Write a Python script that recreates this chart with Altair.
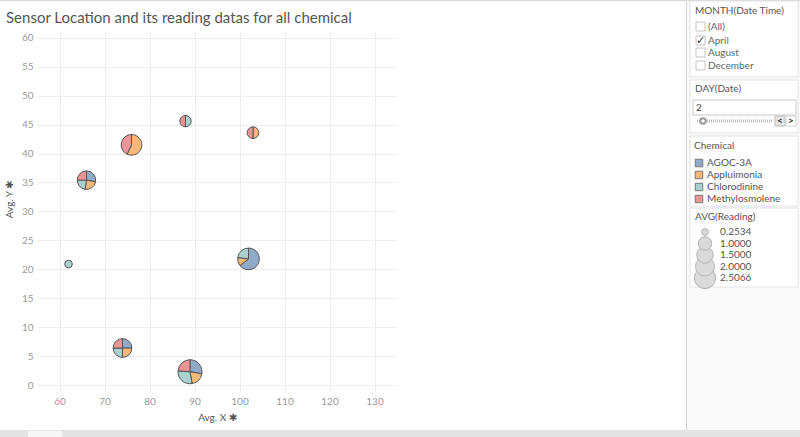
import math
import altair as alt
import pandas as pd

# ---------------- data ----------------
chemicals = ["AGOC-3A", "Appluimonia", "Chlorodinine", "Methylosmolene"]
chem_colors = ["#90abc8", "#f7b87a", "#a9d2cf", "#ec9597"]

sensor_x = [62, 66, 76, 88, 103, 102, 74, 89]
sensor_y = [20.9, 35.4, 41.5, 45.6, 43.6, 21.8, 6.4, 2.3]

reading_agoc = [None, 1.64, None, None, None, 3.94, 1.55, 2.78]
reading_appl = [None, 1.48, 2.12, None, 0.59, 0.77, 1.52, 1.95]
reading_chlor = [0.2534, 1.32, None, 0.56, None, 1.41, 1.51, 2.92]
reading_meth = [None, 1.48, 1.60, 0.56, 0.59, None, 1.54, 2.38]

size_legend_values = [0.2534, 1.0, 1.5, 2.0, 2.5066]
x_ticks = [60, 70, 80, 90, 100, 110, 120, 130]
y_ticks = [0, 5, 10, 15, 20, 25, 30, 35, 40, 45, 50, 55, 60]

month_options = ["(All)", "April", "August", "December"]
month_selected = "April"
day_value = "2"

title_text = "Sensor Location and its reading datas for all chemical"

readings = [reading_agoc, reading_appl, reading_chlor, reading_meth]
rows = []
for i, (sx, sy) in enumerate(zip(sensor_x, sensor_y)):
    for chem, series in zip(chemicals, readings):
        v = series[i]
        if v is not None:
            rows.append({"sensor": i, "x": sx, "y": sy, "chemical": chem, "reading": v})
df = pd.DataFrame(rows)

# ---------------- layout ----------------
FONT = "Lato"
PL, PT = 37, 32          # plot origin in page pixels
W, H = 360, 360          # plot area size
one = pd.DataFrame({"k": [0]})


def txt(label, ax, ay, size=10, color="#555555", align="left", baseline="middle", **kw):
    return alt.Chart(one).mark_text(
        text=label, align=align, baseline=baseline, fontSize=size, color=color, font=FONT, **kw
    ).encode(x=alt.value(ax - PL), y=alt.value(ay - PT))


def box(x1, y1, x2, y2, fill, stroke=None, sw=1):
    kw = {"fill": fill}
    if stroke:
        kw["stroke"] = stroke
        kw["strokeWidth"] = sw
    return alt.Chart(one).mark_rect(**kw).encode(
        x=alt.value(x1 - PL), x2=alt.value(x2 - PL), y=alt.value(y1 - PT), y2=alt.value(y2 - PT)
    )


def hline(x1, x2, y, color, dash=None, sw=1):
    kw = {"color": color, "strokeWidth": sw}
    if dash:
        kw["strokeDash"] = dash
    return alt.Chart(one).mark_rule(**kw).encode(
        x=alt.value(x1 - PL), x2=alt.value(x2 - PL), y=alt.value(y - PT)
    )


def vline(x, y1, y2, color, sw=1):
    return alt.Chart(one).mark_rule(color=color, strokeWidth=sw).encode(
        x=alt.value(x - PL), y=alt.value(y1 - PT), y2=alt.value(y2 - PT)
    )


x_scale = alt.Scale(domain=[55, 135], nice=False, zero=False)
y_scale = alt.Scale(domain=[-1.2, 61.0], nice=False, zero=False)
size_scale = alt.Scale(domain=[0, 2.5066], range=[0, 452])

axis_common = dict(
    grid=True, gridColor="#eeeeee", domain=False, ticks=False, labelOverlap=False,
    labelColor="#9a9a9a", labelFontSize=10, labelFont=FONT,
    titleColor="#555555", titleFontSize=10, titleFont=FONT, titleFontWeight="normal",
)

base = (
    alt.Chart(df)
    .transform_joinaggregate(total="sum(reading)", avg="mean(reading)", groupby=["sensor"])
    .transform_window(cum="sum(reading)", sort=[alt.SortField("chemical")],
                      groupby=["sensor"], frame=[None, 0])
    .transform_calculate(t0="(datum.cum - datum.reading) / datum.total",
                         t1="datum.cum / datum.total")
)

pies = base.mark_arc(stroke="#555555", strokeWidth=1).encode(
    x=alt.X("x:Q", scale=x_scale,
            axis=alt.Axis(values=x_ticks, title="Avg. X ✱", labelPadding=4, titlePadding=6, **axis_common)),
    y=alt.Y("y:Q", scale=y_scale,
            axis=alt.Axis(values=y_ticks, title="Avg. Y ✱", labelPadding=4, titleX=-23, titleY=167,
                          **axis_common)),
    theta=alt.Theta("t0:Q", scale=alt.Scale(domain=[0, 1], range=[0, 2 * math.pi]), stack=False),
    theta2="t1:Q",
    radius=alt.Radius("avg:Q", scale=alt.Scale(type="sqrt", domain=[0, 2.5066], range=[0, 12]),
                      stack=False),
    color=alt.Color("chemical:N", scale=alt.Scale(domain=chemicals, range=chem_colors),
                    legend=alt.Legend(
                        title="Chemical", orient="none", legendX=694 - PL, legendY=141 - PT,
                        symbolType="square", symbolSize=56, symbolStrokeColor="#777777",
                        symbolStrokeWidth=1, symbolOpacity=1,
                        titleFont=FONT, titleFontSize=10, titleFontWeight="normal", titleColor="#555555",
                        titlePadding=7, labelFont=FONT, labelFontSize=10, labelColor="#555555",
                        labelOffset=3, rowPadding=0)),
    tooltip=["chemical:N", "reading:Q"],
)

# ---------------- AVG(Reading) size legend (drawn through the size scale) ----------------
size_rows_y = [232, 243.5, 255, 266.5, 278]
size_leg = [txt("AVG(Reading)", 695, 217)]
for v, ry in reversed(list(zip(size_legend_values, size_rows_y))):
    size_leg.append(
        alt.Chart(pd.DataFrame({"v": [v]})).mark_point(
            filled=True, fill="#dadada", stroke="#b3b3b3", strokeWidth=1, opacity=1, shape="circle"
        ).encode(
            x=alt.value(705 - PL), y=alt.value(ry - PT),
            size=alt.Size("v:Q", scale=size_scale, legend=None))
    )
for v, ry in zip(size_legend_values, size_rows_y):
    size_leg.append(txt(f"{v:.4f}", 720, ry))

# ---------------- dashboard decorations ----------------
back = [
    box(687, 0, 800, 430, "#fafafa"),
    vline(686.5, 0, 430, "#d6d6d6"),
    box(0, 430, 800, 437, "#e4e4e4"),
    box(28, 431, 62, 437, "#f6f6f6"),
    hline(0, 800, 0.5, "#d8d8d8"),
    box(690, 1, 798, 77, "white", "#e3e3e3"),
    box(690, 80, 798, 133, "white", "#e3e3e3"),
    box(690, 136, 798, 206, "white", "#e3e3e3"),
    box(690, 208, 798, 287, "white", "#e3e3e3"),
]
deco = [txt("MONTH(Date Time)", 695, 11)]
for opt, oy in zip(month_options, [27, 41, 53, 66]):
    deco.append(box(696, oy - 5, 705, oy + 4, "white", "#c4c4c4"))
    deco.append(txt(opt, 708, oy, color="#666666"))
    if opt == month_selected:
        deco.append(txt("✓", 700.5, oy, size=11, color="#333333", align="center"))

deco += [
    txt("DAY(Date)", 695, 89),
    box(693, 100, 796, 115, "white", "#c8c8c8"),
    txt(day_value, 696, 107.5, color="#444444"),
    hline(697, 772, 121, "#bdbdbd", dash=[1, 1], sw=3),
    alt.Chart(one).mark_point(filled=True, fill="white", stroke="#9a9a9a", size=30, opacity=1).encode(
        x=alt.value(703 - PL), y=alt.value(121 - PT)),
    box(775, 116, 785, 126, "#e4e4e4", "#bdbdbd"),
    box(786, 116, 796, 126, "white", "#d0d0d0"),
    txt("<", 780, 121, size=10, color="#333333", align="center", fontWeight="bold"),
    txt(">", 791, 121, size=10, color="#333333", align="center", fontWeight="bold"),
    txt(title_text, 6, 23, size=15, color="#555555", baseline="alphabetic"),
]

chart = alt.layer(*back, pies, *size_leg, *deco).properties(
    width=W, height=H,
    autosize=alt.AutoSizeParams(type="none"),
    padding={"left": PL, "top": PT, "right": 800 - PL - W, "bottom": 437 - PT - H},
    background="white",
).configure_view(stroke=None)

chart.save("out.html", embed_options={"renderer": "svg", "actions": False})
